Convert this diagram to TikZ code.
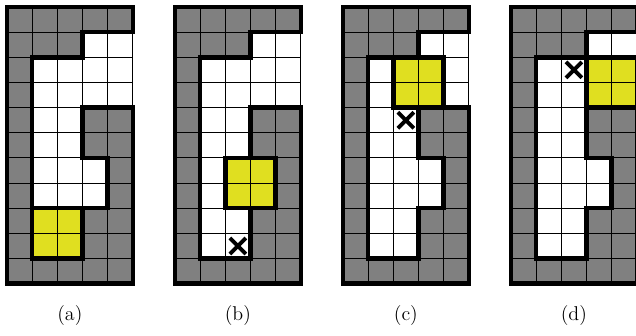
\documentclass[tikz,border=0pt]{standalone}
\usepackage{xcolor}
\usepackage{tikz}
\usetikzlibrary{shapes.misc}

\definecolor{wallgray}{RGB}{128,128,128}
\definecolor{robotyellow}{RGB}{224,223,32}

% one map panel: x offset, robot col, robot row, label, extra marks
\newcommand{\drawpanel}[5]{%
  \begin{scope}[shift={(#1,0)}]
    \fill[wall] (0,0) rectangle (5,11);
    \fill[free] (3,1) -- (5,1) -- (5,4) -- (3,4) -- (3,6) -- (4,6) -- (4,8) -- (3,8) -- (3,10) -- (1,10) -- (1,2) -- (3,2) -- cycle;
    \fill[robot] (#2,#3) rectangle ++(2,2);
    \draw[gridline] (0,0) grid (5,11);
    \draw[wallline] (5,4) -- (5,11) -- (0,11) -- (0,0) -- (5,0) -- (5,1) -- (3,1) -- (3,2) -- (1,2) -- (1,10) -- (3,10) -- (3,8) -- (4,8) -- (4,6) -- (3,6) -- (3,4) -- cycle;
    \draw[wallline] (#2,#3) rectangle ++(2,2);
    #5
    \node[panellabel] (lbl#4) at (2.5,12.25) {(#4)};
  \end{scope}}

\begin{document}
\begin{tikzpicture}[
  x=0.5cm, y=-0.5cm,
  wall/.style={fill=wallgray},
  free/.style={fill=white},
  robot/.style={fill=robotyellow},
  gridline/.style={draw=black, line width=0.6pt, step=0.5cm},
  wallline/.style={draw=black, line width=2.5pt, line join=miter},
  goal/.style={cross out, draw=black, line width=2.2pt, minimum size=0.24cm, inner sep=0pt},
  panellabel/.style={font=\fontsize{11.3}{13.6}\selectfont},
]
\clip (-0.278,-0.278) rectangle (25.01,13.08);

\drawpanel{0}{1}{8}{a}{}
\drawpanel{6.68}{2}{6}{b}{\node[goal] (goalb) at (2.5,9.5) {};}
\drawpanel{13.36}{2}{2}{c}{\node[goal] (goalc) at (2.5,4.5) {};}
\drawpanel{20.04}{3}{2}{d}{\node[goal] (goald) at (2.5,2.5) {};}
\end{tikzpicture}
\end{document}
